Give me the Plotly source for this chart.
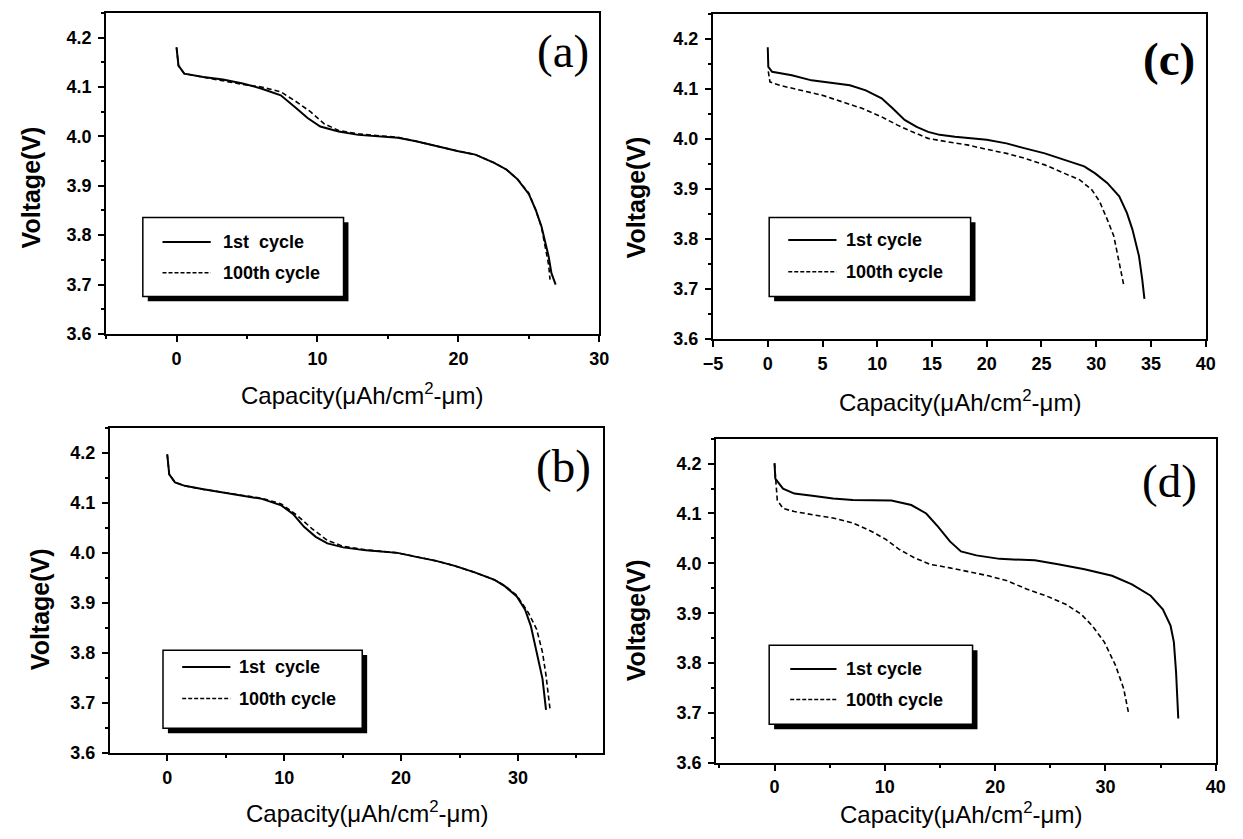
import plotly.graph_objects as go

W, H = 1243, 839

# ---- discharge curves: capacity (uAh/cm^2-um) vs voltage (V) ----
a_cap_1st = [0, 0.14, 0.55, 1.9, 3.3, 4.7, 6.0, 7.4, 8.5, 9.3, 10.2, 11.5, 12.9, 15.7, 17.0, 18.4,
             20.0, 21.2, 22.5, 23.4, 24.2, 25.0, 25.5, 25.9, 26.4, 26.6, 26.9]
a_v_1st = [4.18, 4.143, 4.127, 4.12, 4.115, 4.107, 4.097, 4.083, 4.057, 4.037, 4.02, 4.01, 4.003, 3.997,
           3.99, 3.98, 3.97, 3.963, 3.947, 3.933, 3.913, 3.883, 3.85, 3.817, 3.757, 3.723, 3.70]
a_cap_100th = [0, 0.14, 0.55, 1.9, 3.3, 4.7, 6.0, 7.4, 8.5, 9.5, 10.5, 11.5, 12.9, 15.7, 17.0, 18.4,
               20.0, 21.2, 22.5, 23.4, 24.2, 25.0, 25.5, 25.9, 26.2, 26.4, 26.5]
a_v_100th = [4.18, 4.143, 4.127, 4.12, 4.113, 4.105, 4.1, 4.09, 4.07, 4.05, 4.025, 4.012, 4.005, 3.998,
             3.99, 3.98, 3.97, 3.963, 3.947, 3.933, 3.913, 3.885, 3.85, 3.815, 3.77, 3.74, 3.71]

b_cap_1st = [0, 0.17, 0.66, 1.5, 3.1, 4.8, 6.45, 8.1, 9.75, 10.75, 11.7, 12.7, 13.7, 15.05, 17.0, 19.7,
             21.3, 23.0, 24.6, 26.3, 28.0, 28.9, 29.9, 30.6, 31.1, 31.6, 32.1, 32.4]
b_v_1st = [4.197, 4.157, 4.141, 4.134, 4.127, 4.121, 4.114, 4.108, 4.095, 4.078, 4.052, 4.032, 4.019,
           4.011, 4.005, 4.0, 3.992, 3.984, 3.974, 3.961, 3.946, 3.933, 3.913, 3.887, 3.854, 3.801,
           3.748, 3.686]
b_cap_100th = [0, 0.17, 0.66, 1.5, 3.1, 4.8, 6.45, 8.1, 9.75, 11.1, 12.4, 13.7, 15.05, 17.0, 19.7, 21.3,
               23.0, 24.6, 26.3, 28.0, 28.9, 29.9, 30.9, 31.6, 32.1, 32.4, 32.75]
b_v_100th = [4.197, 4.157, 4.141, 4.134, 4.127, 4.121, 4.116, 4.109, 4.098, 4.075, 4.048, 4.025, 4.013,
             4.006, 4.0, 3.992, 3.984, 3.974, 3.961, 3.946, 3.934, 3.915, 3.88, 3.847, 3.801, 3.755,
             3.686]

c_cap_1st = [0, 0.05, 0.4, 2.2, 4.0, 5.8, 7.5, 8.95, 10.4, 11.4, 12.5, 13.6, 14.65, 15.7, 17.1, 20.0,
             21.8, 23.5, 25.3, 27.1, 28.9, 29.9, 31.0, 32.1, 32.8, 33.3, 33.9, 34.2, 34.4]
c_v_1st = [4.183, 4.144, 4.134, 4.127, 4.117, 4.112, 4.107, 4.097, 4.081, 4.061, 4.038, 4.024, 4.014,
           4.008, 4.004, 3.998, 3.991, 3.981, 3.971, 3.958, 3.945, 3.931, 3.912, 3.885, 3.852, 3.819,
           3.766, 3.719, 3.68]
c_cap_100th = [0.05, 0.2, 1.1, 3.2, 5.0, 6.8, 8.6, 10.4, 11.8, 13.2, 14.65, 16.4, 18.2, 20.0, 21.8, 23.5,
               25.3, 27.1, 28.5, 29.6, 30.3, 31.0, 31.6, 32.1, 32.5]
c_v_100th = [4.135, 4.114, 4.107, 4.097, 4.087, 4.074, 4.061, 4.044, 4.028, 4.014, 4.001, 3.994, 3.988,
             3.979, 3.971, 3.961, 3.948, 3.931, 3.918, 3.898, 3.875, 3.839, 3.806, 3.752, 3.709]

d_cap_1st = [0, 0.07, 0.77, 1.8, 3.6, 5.3, 7.1, 10.6, 12.4, 13.75, 14.8, 15.9, 16.9, 18.3, 20.4, 23.6,
             25.7, 28.1, 30.6, 32.4, 34.1, 35.2, 35.9, 36.2, 36.4, 36.6]
d_v_1st = [4.201, 4.17, 4.15, 4.14, 4.135, 4.13, 4.127, 4.126, 4.117, 4.1, 4.074, 4.044, 4.024, 4.016,
           4.009, 4.006, 3.998, 3.988, 3.975, 3.958, 3.935, 3.908, 3.875, 3.842, 3.782, 3.689]
d_cap_100th = [0, 0.25, 0.77, 1.8, 3.6, 5.3, 7.1, 8.8, 10.1, 11.3, 12.7, 14.1, 15.9, 17.6, 19.4, 21.1,
               22.9, 24.6, 26.4, 27.8, 28.8, 29.9, 30.9, 31.65, 32.1]
d_v_100th = [4.2, 4.127, 4.11, 4.104, 4.097, 4.091, 4.081, 4.064, 4.048, 4.028, 4.011, 3.998, 3.991,
             3.983, 3.975, 3.965, 3.948, 3.935, 3.918, 3.898, 3.875, 3.842, 3.796, 3.749, 3.699]

series_names = ["1st  cycle", "100th cycle"]
series_names_cd = ["1st cycle", "100th cycle"]
panel_tags = ["(a)", "(b)", "(c)", "(d)"]
x_title = "Capacity(\u03bcAh/cm<sup>2</sup>-\u03bcm)"
y_title = "Voltage(V)"

SANS = "Liberation Sans, Arial, sans-serif"
SERIF = "Liberation Serif, Times New Roman, serif"


def px_x(v):
    return v / W


def px_y(v):
    return 1 - v / H


# panel layout in pixels: frame box, x range, tick steps, legend box, decorations
panels = [
    dict(tag=panel_tags[0], cap=(a_cap_1st, a_cap_100th), volt=(a_v_1st, a_v_100th), names=series_names,
         frame=(97.6, 13, 599, 338), xr=(-5, 30), xd=10, xminor=5,
         leg=(135, 220, 339, 300), leg_line=(155, 204), leg_text=214, leg_rows=(245, 276),
         tag_xy=(562, 52), tag_bold=False, ytitle_xy=(21, 190), xtitle_xy=(358, 399)),
    dict(tag=panel_tags[1], cap=(b_cap_1st, b_cap_100th), volt=(b_v_1st, b_v_100th), names=series_names,
         frame=(101.6, 433, 603, 762), xr=(-4.9, 37.3), xd=10, xminor=5,
         leg=(155.5, 658, 358, 737), leg_line=(175, 224), leg_text=231, leg_rows=(675, 707),
         tag_xy=(563, 472), tag_bold=False, ytitle_xy=(30, 617), xtitle_xy=(363, 822)),
    dict(tag=panel_tags[2], cap=(c_cap_1st, c_cap_100th), volt=(c_v_1st, c_v_100th), names=series_names_cd,
         frame=(714.5, 14, 1215.3, 343), xr=(-5, 40), xd=5, xminor=None,
         leg=(771.6, 220, 976.3, 300), leg_line=(791, 840), leg_text=848, leg_rows=(243, 275),
         tag_xy=(1178, 60), tag_bold=True, ytitle_xy=(636, 200), xtitle_xy=(966, 406)),
    dict(tag=panel_tags[3], cap=(d_cap_1st, d_cap_100th), volt=(d_v_1st, d_v_100th), names=series_names_cd,
         frame=(717.6, 444, 1225.5, 772), xr=(-5.3, 40), xd=10, xminor=5,
         leg=(771.6, 653, 978.3, 733), leg_line=(793, 840), leg_text=848, leg_rows=(677, 708),
         tag_xy=(1178, 487), tag_bold=False, ytitle_xy=(636, 628), xtitle_xy=(967, 823)),
]

fig = go.Figure()
shapes = []
annotations = []
dash_styles = ["solid", "5px,3px"]
widths = [2.0, 1.6]

for i, p in enumerate(panels, start=1):
    xa = "x" if i == 1 else f"x{i}"
    ya = "y" if i == 1 else f"y{i}"
    for k in range(2):
        fig.add_trace(go.Scatter(
            x=p["cap"][k], y=p["volt"][k], mode="lines", name=p["names"][k],
            line=dict(color="black", width=widths[k], dash=dash_styles[k]),
            xaxis=xa, yaxis=ya, showlegend=False))

    x0, y0, x1, y1 = p["frame"]
    tickfont = dict(family=SANS, size=18, color="black", weight="bold")
    xaxis = dict(domain=[px_x(x0), px_x(x1)], range=list(p["xr"]), anchor=ya,
                 showline=True, linecolor="black", linewidth=2, mirror=True,
                 showgrid=False, zeroline=False, ticks="outside", ticklen=6, tickwidth=1.5,
                 tickcolor="black", dtick=p["xd"], tick0=0, tickfont=tickfont,
                 ticklabelstandoff=1, fixedrange=True)
    if p["xminor"]:
        xaxis["minor"] = dict(dtick=p["xminor"], tick0=0, ticks="outside", ticklen=3,
                              tickwidth=1.5, tickcolor="black", showgrid=False)
    yaxis = dict(domain=[px_y(y1), px_y(y0)], range=[3.6, 4.25], anchor=xa,
                 showline=True, linecolor="black", linewidth=2, mirror=True,
                 showgrid=False, zeroline=False, ticks="outside", ticklen=6, tickwidth=1.5,
                 tickcolor="black", dtick=0.1, tick0=3.6, tickformat=".1f", tickfont=tickfont,
                 ticklabelstandoff=3,
                 minor=dict(dtick=0.05, tick0=3.6, ticks="outside", ticklen=3, tickwidth=1.5,
                            tickcolor="black", showgrid=False),
                 fixedrange=True)
    fig.update_layout(**{("xaxis" if i == 1 else f"xaxis{i}"): xaxis,
                         ("yaxis" if i == 1 else f"yaxis{i}"): yaxis})

    # legend box with drop shadow
    lx0, ly0, lx1, ly1 = p["leg"]
    shapes.append(dict(type="rect", xref="paper", yref="paper",
                       x0=px_x(lx0 + 5), x1=px_x(lx1 + 5), y0=px_y(ly1 + 5), y1=px_y(ly0 + 5),
                       fillcolor="black", line=dict(width=0), layer="above"))
    shapes.append(dict(type="rect", xref="paper", yref="paper",
                       x0=px_x(lx0), x1=px_x(lx1), y0=px_y(ly1), y1=px_y(ly0),
                       fillcolor="white", line=dict(color="black", width=1.5), layer="above"))
    for k in range(2):
        ry = p["leg_rows"][k]
        shapes.append(dict(type="line", xref="paper", yref="paper",
                           x0=px_x(p["leg_line"][0]), x1=px_x(p["leg_line"][1]),
                           y0=px_y(ry), y1=px_y(ry),
                           line=dict(color="black", width=widths[k] if k == 0 else 1.4,
                                     dash="solid" if k == 0 else "4px,2px"),
                           layer="above"))
        annotations.append(dict(x=px_x(p["leg_text"]), y=px_y(ry), xref="paper", yref="paper",
                                text=p["names"][k], showarrow=False, xanchor="left", yanchor="middle",
                                font=dict(family=SANS, size=18, color="black", weight="bold")))

    # panel tag
    annotations.append(dict(x=px_x(p["tag_xy"][0]), y=px_y(p["tag_xy"][1]), xref="paper", yref="paper",
                            text=p["tag"], showarrow=False, xanchor="center", yanchor="middle",
                            font=dict(family=SERIF, size=47, color="black",
                                      weight="bold" if p["tag_bold"] else "normal")))
    # axis titles
    annotations.append(dict(x=px_x(p["ytitle_xy"][0]), y=px_y(p["ytitle_xy"][1]), xref="paper",
                            yref="paper", text=y_title, showarrow=False, textangle=-90,
                            xanchor="center", yanchor="middle",
                            font=dict(family=SANS, size=25, color="black", weight="bold")))
    annotations.append(dict(x=px_x(p["xtitle_xy"][0]), y=px_y(p["xtitle_xy"][1]), xref="paper",
                            yref="paper", text=x_title, showarrow=False,
                            xanchor="center", yanchor="middle",
                            font=dict(family=SANS, size=24, color="black")))

fig.update_layout(width=W, height=H, margin=dict(l=0, r=0, t=0, b=0),
                  paper_bgcolor="white", plot_bgcolor="white",
                  shapes=shapes, annotations=annotations, showlegend=False)

fig.write_html("out.html", config={"displayModeBar": False})
